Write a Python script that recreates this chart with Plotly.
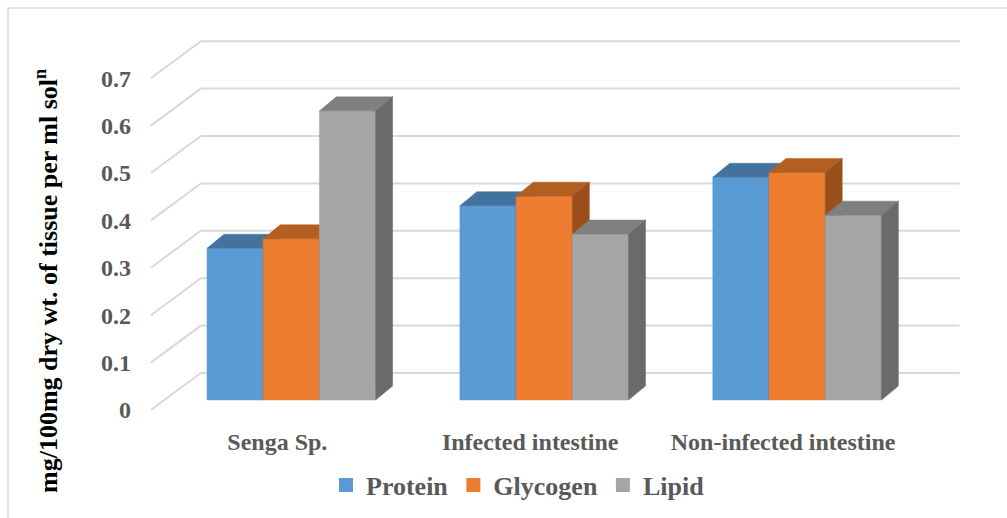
import plotly.graph_objects as go

# ---- data -------------------------------------------------------------
categories = ["Senga Sp.", "Infected intestine", "Non-infected intestine"]
protein = [0.32, 0.41, 0.47]
glycogen = [0.34, 0.43, 0.48]
lipid = [0.61, 0.35, 0.39]
series_names = ["Protein", "Glycogen", "Lipid"]
tick_values = [0, 0.1, 0.2, 0.3, 0.4, 0.5, 0.6, 0.7]
tick_labels = ["0", "0.1", "0.2", "0.3", "0.4", "0.5", "0.6", "0.7"]

# ---- styling ----------------------------------------------------------
front_colors = ["#5B9BD5", "#ED7D31", "#A5A5A5"]
top_colors = ["#44729F", "#B45F22", "#7F7F7F"]
side_colors = ["#2F5D8A", "#9A4E1B", "#6A6A6A"]
GRID = "#D9D9D9"
TXT = "#595959"
FONT = "Liberation Serif"

W, H = 1007, 518
# figure geometry (pixels)
PLOT_L, PLOT_R, PLOT_T, PLOT_B = 132, 1007, 0, 425
PX_PER_CAT = 252.9      # horizontal pixels per category
PX_PER_UNIT = 474.0     # vertical pixels per 1.0 of value
CAT0_PX = 291.3         # pixel x of first category centre (bar front plane)
BASE_PX = 400.0         # pixel y of value 0 on the bar front plane

# 3-D look, in data units
BAR_W = 2.0 / 9.0                   # three bars fill 2/3 of a category
DEPTH_DX = 17 / PX_PER_CAT
DEPTH_DY = 14 / PX_PER_UNIT
FRONT_DX, FRONT_DY = -14 / PX_PER_CAT, -10 / PX_PER_UNIT   # floor front edge
BACK_DX, BACK_DY = 36 / PX_PER_CAT, 27 / PX_PER_UNIT       # back wall

x_range = [(PLOT_L - CAT0_PX) / PX_PER_CAT, (PLOT_R - CAT0_PX) / PX_PER_CAT]
y_range = [(BASE_PX - PLOT_B) / PX_PER_UNIT, (BASE_PX - PLOT_T) / PX_PER_UNIT]


def paper_x(px):
    return (px - PLOT_L) / (PLOT_R - PLOT_L)


def paper_y(py):
    return (PLOT_B - py) / (PLOT_B - PLOT_T)


fig = go.Figure()

# ---- walls: gridlines running along the floor edge and back wall -----
n_cat = len(categories)
left_front = -0.5 + FRONT_DX
left_back = -0.5 + BACK_DX
right_back = n_cat - 0.5 + BACK_DX
gx, gy = [], []
for v in tick_values:
    gx += [left_front, left_back, right_back, None]
    gy += [v + FRONT_DY, v + BACK_DY, v + BACK_DY, None]
fig.add_trace(go.Scatter(x=gx, y=gy, mode="lines",
                         line=dict(color=GRID, width=2),
                         hoverinfo="skip", showlegend=False))

# ---- 3-D bars (front, top and side faces) ----------------------------
values = [protein, glycogen, lipid]


def poly(xs, ys, color):
    fig.add_trace(go.Scatter(x=xs + [xs[0]], y=ys + [ys[0]], mode="lines",
                             fill="toself", fillcolor=color,
                             line=dict(color=color, width=0.5),
                             hoverinfo="skip", showlegend=False))


for k in range(n_cat):
    for j, vals in enumerate(values):
        v = vals[k]
        x0 = k - 1.0 / 3.0 + j * BAR_W
        x1 = x0 + BAR_W
        poly([x0, x1, x1, x0], [0, 0, v, v], front_colors[j])
        poly([x0, x1, x1 + DEPTH_DX, x0 + DEPTH_DX],
             [v, v, v + DEPTH_DY, v + DEPTH_DY], top_colors[j])
        poly([x1, x1 + DEPTH_DX, x1 + DEPTH_DX, x1],
             [0, DEPTH_DY, v + DEPTH_DY, v], side_colors[j])

# legend entries
for j, name in enumerate(series_names):
    fig.add_trace(go.Scatter(x=[None], y=[None], mode="markers",
                             name=name,
                             marker=dict(symbol="square", size=14,
                                         color=front_colors[j])))

# ---- outer chart frame ---------------------------------------------------
fig.add_shape(type="rect", xref="paper", yref="paper",
              x0=paper_x(8), x1=paper_x(W + 10),
              y0=paper_y(H + 10), y1=paper_y(8),
              line=dict(color=GRID, width=1.5), layer="below")

# axis title
fig.add_annotation(xref="paper", yref="paper", x=paper_x(46), y=paper_y(281),
                   text="<b>mg/100mg dry wt. of tissue per ml sol<sup>n</sup></b>",
                   textangle=-90, showarrow=False,
                   font=dict(family=FONT, size=26, color="black"),
                   xanchor="center", yanchor="middle")

fig.update_layout(
    width=W, height=H,
    margin=dict(l=PLOT_L, r=W - PLOT_R, t=PLOT_T, b=H - PLOT_B),
    paper_bgcolor="white", plot_bgcolor="white",
    font=dict(family=FONT, color=TXT),
    xaxis=dict(range=x_range, showgrid=False, zeroline=False, showline=False,
               tickmode="array",
               tickvals=[k + FRONT_DX for k in range(n_cat)],
               ticktext=["<b>%s</b>" % c for c in categories],
               tickfont=dict(family=FONT, size=24, color=TXT), ticklen=0),
    yaxis=dict(range=y_range, showgrid=False, zeroline=False, showline=False,
               tickmode="array",
               tickvals=[v + FRONT_DY for v in tick_values],
               ticktext=["<b>%s</b>" % t for t in tick_labels],
               tickfont=dict(family=FONT, size=24, color=TXT), ticklen=0),
    legend=dict(orientation="h", x=paper_x(518), y=paper_y(485),
                xanchor="center", yanchor="middle",
                font=dict(family="Times New Roman, Liberation Serif, serif",
                          size=26, color=TXT, weight="bold"),
                itemwidth=30, bgcolor="rgba(0,0,0,0)"),
    showlegend=True,
)

fig.write_html("out.html")
